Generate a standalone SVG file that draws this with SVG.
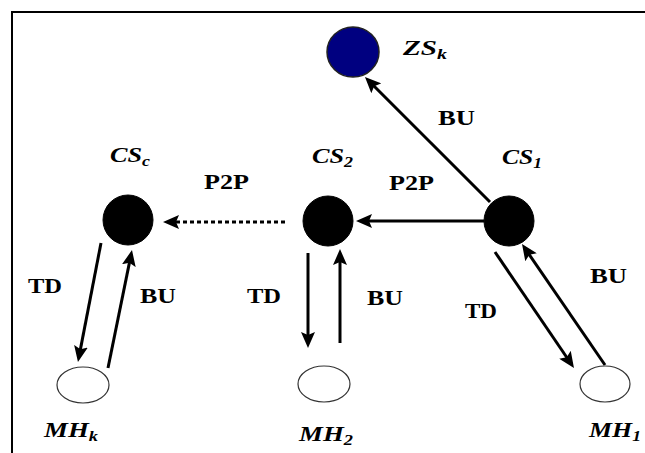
<svg xmlns="http://www.w3.org/2000/svg" width="645" height="453" viewBox="0 0 645 453">
  <defs>
    <marker id="ah" viewBox="0 0 16 14" refX="10" refY="7" markerWidth="16" markerHeight="14" markerUnits="userSpaceOnUse" orient="auto">
      <path d="M0,0 L16,7 L0,14 L3,7 z" fill="#000"/>
    </marker>
    <style>
      .lbl { font-family: "Liberation Serif", "Times New Roman", serif; font-weight: bold; font-size: 22px; fill: #000; }
      .nm { font-family: "Liberation Serif", "Times New Roman", serif; font-weight: bold; font-style: italic; font-size: 22px; fill: #000; }
      .sub { font-size: 15px; }
      .conn line { stroke: #000; stroke-width: 3; fill: none; marker-end: url(#ah); }
      .conn line.dot { stroke-dasharray: 4 3; }
      .cs { fill: #000; stroke: #000; stroke-width: 1; }
      .mh { fill: #fff; stroke: #333; stroke-width: 1.2; }
      .zs { fill: #000080; stroke: #222; stroke-width: 1.5; }
    </style>
  </defs>
  <rect width="645" height="453" fill="#fff"/>
  <path d="M12,460 V12 H660" fill="none" stroke="#000" stroke-width="2"/>

  <g id="connectors" class="conn">
    <line x1="490" y1="202" x2="369.2" y2="81.2"/>
    <line x1="484" y1="221" x2="362" y2="221"/>
    <line class="dot" x1="285" y1="222" x2="169" y2="222"/>
    <line x1="101" y1="243" x2="79.1" y2="356.1"/>
    <line x1="108" y1="368" x2="130.8" y2="255.9"/>
    <line x1="308" y1="253" x2="308" y2="342"/>
    <line x1="340" y1="343" x2="340" y2="255"/>
    <line x1="495" y1="252" x2="570.6" y2="363"/>
    <line x1="605" y1="365" x2="525.4" y2="249"/>
  </g>

  <g id="labels">
    <text class="lbl" x="438" y="125" textLength="37" lengthAdjust="spacingAndGlyphs">BU</text>
    <text class="lbl" x="389" y="190" textLength="45" lengthAdjust="spacingAndGlyphs">P2P</text>
    <text class="lbl" x="204" y="189" textLength="45" lengthAdjust="spacingAndGlyphs">P2P</text>
    <text class="lbl" x="28" y="293" textLength="34" lengthAdjust="spacingAndGlyphs">TD</text>
    <text class="lbl" x="140" y="303" textLength="36" lengthAdjust="spacingAndGlyphs">BU</text>
    <text class="lbl" x="247" y="303" textLength="34" lengthAdjust="spacingAndGlyphs">TD</text>
    <text class="lbl" x="367" y="305" textLength="36" lengthAdjust="spacingAndGlyphs">BU</text>
    <text class="lbl" x="465" y="318" textLength="32" lengthAdjust="spacingAndGlyphs">TD</text>
    <text class="lbl" x="590" y="283" textLength="37" lengthAdjust="spacingAndGlyphs">BU</text>
  </g>

  <g id="ZSk">
    <ellipse class="zs" cx="353" cy="52" rx="26" ry="25"/>
    <text class="nm" x="403" y="55" textLength="44" lengthAdjust="spacingAndGlyphs">ZS<tspan class="sub" dy="4">k</tspan></text>
  </g>
  <g id="CSc">
    <ellipse class="cs" cx="128" cy="220" rx="25" ry="25"/>
    <text class="nm" x="110" y="162" textLength="40" lengthAdjust="spacingAndGlyphs">CS<tspan class="sub" dy="4">c</tspan></text>
  </g>
  <g id="CS2">
    <ellipse class="cs" cx="328" cy="221" rx="25" ry="25"/>
    <text class="nm" x="312" y="163" textLength="41" lengthAdjust="spacingAndGlyphs">CS<tspan class="sub" dy="4">2</tspan></text>
  </g>
  <g id="CS1">
    <ellipse class="cs" cx="509" cy="221" rx="25" ry="25"/>
    <text class="nm" x="502" y="164" textLength="40" lengthAdjust="spacingAndGlyphs">CS<tspan class="sub" dy="4">1</tspan></text>
  </g>
  <g id="MHk">
    <ellipse class="mh" cx="83" cy="385" rx="26" ry="18"/>
    <text class="nm" x="44" y="437" textLength="54" lengthAdjust="spacingAndGlyphs">MH<tspan class="sub" dy="4">k</tspan></text>
  </g>
  <g id="MH2">
    <ellipse class="mh" cx="324" cy="384" rx="26" ry="18"/>
    <text class="nm" x="299" y="441" textLength="54" lengthAdjust="spacingAndGlyphs">MH<tspan class="sub" dy="4">2</tspan></text>
  </g>
  <g id="MH1">
    <ellipse class="mh" cx="605" cy="384" rx="25" ry="18"/>
    <text class="nm" x="589" y="437" textLength="52" lengthAdjust="spacingAndGlyphs">MH<tspan class="sub" dy="4">1</tspan></text>
  </g>
</svg>
